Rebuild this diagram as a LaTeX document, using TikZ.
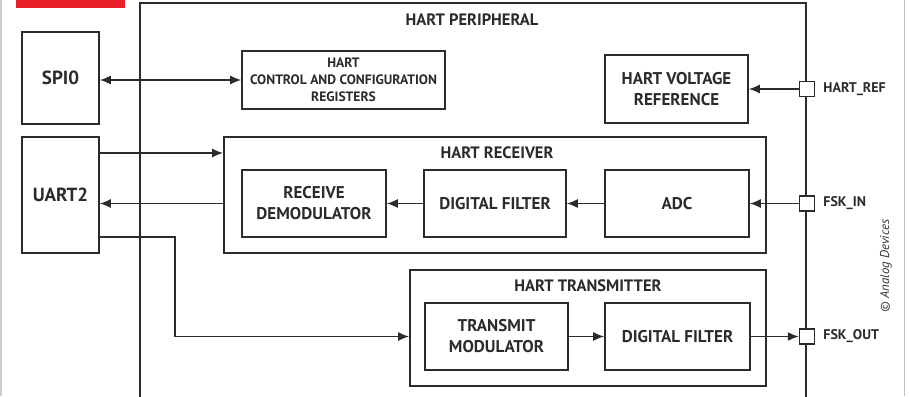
\documentclass[tikz,border=0pt]{standalone}
\usepackage{fontspec}
\setmainfont{PT Sans}
\usetikzlibrary{arrows.meta}
\definecolor{ink}{HTML}{2B2B2B}
\definecolor{adired}{HTML}{E8202A}
\tikzset{
  blk/.style={draw=ink, line width=1.6pt, fill=white, align=center, inner sep=0pt,
              font=\fontsize{17}{21}\selectfont\bfseries, text=ink},
  extblk/.style={blk, font=\fontsize{19}{22}\selectfont\bfseries},
  grp/.style={draw=ink, line width=1.8pt, inner sep=0pt},
  grptitle/.style={font=\fontsize{16.5}{18}\selectfont\bfseries, text=ink},
  port/.style={draw=ink, line width=1.5pt, fill=white, minimum size=15pt, inner sep=0pt},
  portlabel/.style={font=\fontsize{14}{15}\selectfont\bfseries, text=ink, anchor=west, inner sep=0pt},
  sig/.style={draw=ink, line width=1.5pt, -{Latex[length=11pt,width=9pt]}},
  bisig/.style={draw=ink, line width=1.5pt, {Latex[length=11pt,width=9pt]}-{Latex[length=11pt,width=9pt]}}
}
\begin{document}
\begin{tikzpicture}[x=1pt,y=-1pt]
\clip (0,0) rectangle (909,396);
\fill[white] (0,0) rectangle (909,396);
% page edges and header tab
\fill[black!20] (0,0) rectangle (2,396);
\fill[black!25] (903.5,0) rectangle (905,396);
\fill[adired] (16,0) rectangle (125,8);

% peripheral outline (continues below the visible area)
\draw[ink, line width=1.9pt] (140,400) -- (140,3) -- (806,3) -- (806,400);
\node[grptitle] (perttl) at (472,20) {HART PERIPHERAL};

% external blocks
\node[extblk, minimum width=77pt, minimum height=92pt] (spi) at (60.5,78) {SPI0};
\node[extblk, minimum width=77pt, minimum height=116pt] (uart) at (60.5,195) {UART2};

% configuration and reference
\node[blk, minimum width=203pt, minimum height=58pt,
      font=\fontsize{13.6}{17}\selectfont\bfseries] (ctrl) at (343.5,80)
      {HART\\CONTROL AND CONFIGURATION\\REGISTERS};
\node[blk, minimum width=143pt, minimum height=68pt] (vref) at (676.5,89)
      {HART VOLTAGE\\REFERENCE};

% receiver
\node[grp, minimum width=542pt, minimum height=116pt] (rx) at (495,195) {};
\node[grptitle] (rxttl) at (497,153) {HART RECEIVER};
\node[blk, minimum width=144pt, minimum height=67pt] (demod) at (314,203.5) {RECEIVE\\DEMODULATOR};
\node[blk, minimum width=142pt, minimum height=67pt] (rxf) at (495,203.5) {DIGITAL FILTER};
\node[blk, minimum width=144pt, minimum height=67pt] (adc) at (677,203.5) {ADC};

% transmitter
\node[grp, minimum width=356pt, minimum height=116pt] (tx) at (588,328) {};
\node[grptitle] (txttl) at (588,286) {HART TRANSMITTER};
\node[blk, minimum width=143pt, minimum height=67pt] (mod) at (496.5,336.5) {TRANSMIT\\MODULATOR};
\node[blk, minimum width=145pt, minimum height=67pt] (txf) at (677.5,336.5) {DIGITAL FILTER};

% pins on the peripheral edge
\node[port] (pref) at (807,89) {};
\node[port] (pin) at (807,203.5) {};
\node[port] (pout) at (807,336.5) {};
\node[portlabel] (lref) at ([xshift=8pt]pref.east) {HART\_REF};
\node[portlabel] (lin) at ([xshift=8pt]pin.east) {FSK\_IN};
\node[portlabel] (lout) at ([xshift=8pt]pout.east) {FSK\_OUT};

% signal paths
\draw[bisig] (ctrl.west -| spi.east) -- (ctrl.west);
\draw[sig] (pref.west) -- (vref.east);
\draw[sig] (pin.west) -- (adc.east);
\draw[sig] (adc.west) -- (rxf.east);
\draw[sig] (rxf.west) -- (demod.east);
\draw[sig] (rx.west |- demod) -- (uart.east |- demod);
\draw[sig] ([yshift=42pt]uart.east) -- ([yshift=42pt]uart.east -| rx.west);
\draw[sig] ([yshift=-42pt]uart.east) -- ++(75,0) |- (tx.west |- mod);
\draw[sig] (mod.east) -- (txf.west);
\draw[sig] (txf.east) -- (pout.west);

% credit
\node[rotate=90, font=\fontsize{12.8}{14}\selectfont\itshape, text=black!80] (credit) at (886,266) {© Analog Devices};
\end{tikzpicture}
\end{document}
